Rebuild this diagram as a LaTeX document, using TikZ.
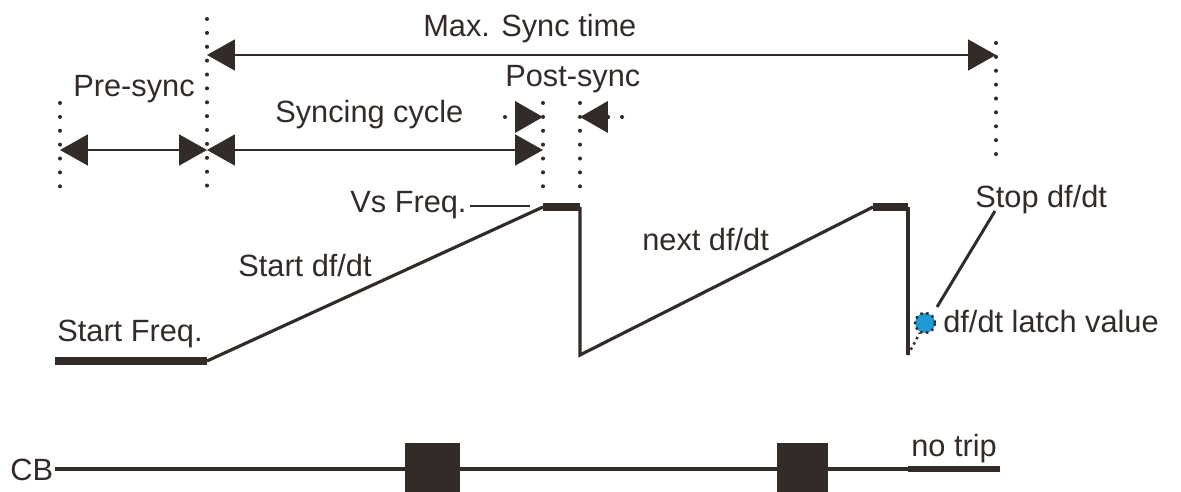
\documentclass[tikz,border=0pt]{standalone}
\usepackage{fontspec}
\setmainfont{Liberation Sans}
\usetikzlibrary{arrows.meta}
\definecolor{ink}{HTML}{332B28}
\definecolor{latchblue}{HTML}{1E9BD7}
\tikzset{
  lbl/.style={anchor=base west, inner sep=0pt, text=ink, font=\fontsize{17.5}{20}\selectfont},
  guide/.style={ink, line width=2.3pt, line cap=round, dash pattern=on 0pt off 7.9pt},
  tri/.tip={Triangle[length=0.56cm, width=0.62cm]},
  span/.style={ink, line width=1.1pt},
  sig/.style={ink, line width=1.8pt, line join=miter},
  hold/.style={ink, line width=5pt},
}
\begin{document}
\begin{tikzpicture}[x=0.02cm, y=-0.02cm]
  \useasboundingbox (0,0) rectangle (1181,492);

  % dotted guides
  \coordinate (g0t) at (60,103);  \coordinate (g0b) at (60,187);
  \coordinate (g1t) at (207,19);  \coordinate (g1b) at (207,187);
  \coordinate (g2t) at (543,103); \coordinate (g2b) at (543,190);
  \coordinate (g3t) at (580,103); \coordinate (g3b) at (580,190);
  \coordinate (g4t) at (996,43);  \coordinate (g4b) at (996,165);
  \foreach \g in {g0,g1,g2,g3,g4}
    \draw[guide] (\g t) -- (\g b);

  % time spans
  \coordinate (max0) at (207,55);  \coordinate (max1) at (996,55);
  \coordinate (pre0) at (60,150);  \coordinate (pre1) at (207,150);
  \coordinate (syn1) at (543,150);
  \coordinate (post0) at (505,117); \coordinate (post1) at (543,117);
  \coordinate (post2) at (622,117); \coordinate (post3) at (580,117);
  \draw[span, tri-tri] (max0) -- (max1);
  \draw[span, tri-tri] (pre0) -- (pre1);
  \draw[span, tri-tri] (pre1) -- (syn1);
  \draw[guide, -tri] (post0) -- (post1);
  \draw[guide, -tri] (post2) -- (post3);

  \node (maxsync) [lbl] at (423,37) {Max. Sync time};
  \node (presync) [lbl] at (73,97) {Pre-sync};
  \node (syncing) [lbl] at (275,123) {Syncing cycle};
  \node (postsync) [lbl] at (505,87) {Post-sync};

  % frequency curve
  \coordinate (f0) at (55,361);  \coordinate (f1) at (207,361);
  \coordinate (f2) at (543,207); \coordinate (f3) at (580,207);
  \coordinate (f4) at (580,355); \coordinate (f5) at (873,207);
  \coordinate (f6) at (908,207); \coordinate (f7) at (908,355);
  \draw[hold] (f0) -- (f1);
  \draw[sig] (f1) -- (f2);
  \draw[hold] (f2) -- (f3);
  \draw[sig] (f3) -- (f4) -- (f5);
  \draw[hold] (f5) -- (f6);
  \draw[sig] (f6) -- (f7);

  \node (latch) [circle, fill=latchblue, draw=ink, line width=1.4pt, dotted,
    inner sep=0pt, minimum size=0.4cm] at (925,323) {};
  \draw[ink, line width=1.4pt, dotted] (f7) -- (latch);

  \node (startfreq) [lbl] at (57,342) {Start Freq.};
  \node (vsfreq) [lbl] at (350,213) {Vs Freq.};
  \node (startdfdt) [lbl] at (238,277) {Start df/dt};
  \node (nextdfdt) [lbl] at (642,251) {next df/dt};
  \node (stopdfdt) [lbl] at (975,208) {Stop df/dt};
  \node (latchval) [lbl] at (943,333) {df/dt latch value};

  \coordinate (vs0) at (470,206); \coordinate (vs1) at (530,206);
  \draw[ink, line width=0.8pt] (vs0) -- (vs1);
  \coordinate (st0) at (937,307); \coordinate (st1) at (995,211);
  \draw[ink, line width=1.7pt] (st0) -- (st1);

  % circuit breaker
  \node (cb) [lbl] at (10,481) {CB};
  \coordinate (cb0) at (55,469); \coordinate (cb1) at (908,469);
  \coordinate (cb2) at (1000,469);
  \draw[sig] (cb0) -- (cb1);
  \draw[ink, line width=3.6pt] (cb1) -- (cb2);
  \fill[ink] (405,443) rectangle (460,492);
  \fill[ink] (777,443) rectangle (828,492);
  \node (notrip) [lbl] at (911,457) {no trip};
\end{tikzpicture}
\end{document}
